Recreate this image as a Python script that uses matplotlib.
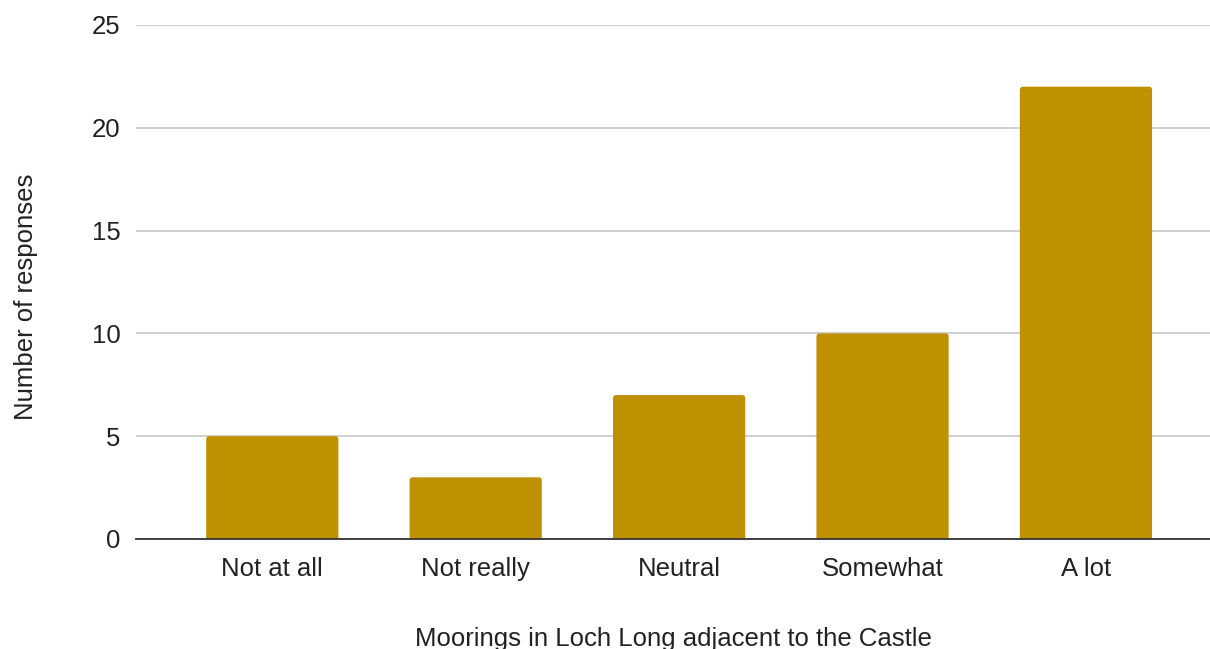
import matplotlib
matplotlib.use("Agg")
import matplotlib.pyplot as plt
from matplotlib.patches import FancyBboxPatch
import numpy as np

categories = ["Not at all", "Not really", "Neutral", "Somewhat", "A lot"]
responses = [5, 3, 7, 10, 22]
yticks = [0, 5, 10, 15, 20, 25]

plt.rcParams['font.family'] = ['Liberation Sans', 'DejaVu Sans']

fig = plt.figure(figsize=(12.1, 6.49), dpi=100)
# axes box in pixel terms: left 136, right 1210, top 25, bottom 539
ax = fig.add_axes([136 / 1210, (649 - 539) / 649, (1210 - 136) / 1210, (539 - 25) / 649])

ax.set_ylim(0, 25)
ax.set_xlim(-0.67, 4.61)

index = np.arange(len(categories))
bars = ax.bar(index, responses, 0.65, color="#bf9000", zorder=3)

# swap plain bars for ones with slightly rounded tops
rad = 0.016
aspect = (25 / 514) / (5.28 / 1074)
for b in bars:
    x, y = b.get_x(), b.get_y()
    w, h = b.get_width(), b.get_height()
    b.remove()
    p = FancyBboxPatch((x, y - 0.3), w, h + 0.3,
                       boxstyle="round,pad=0,rounding_size={}".format(rad),
                       mutation_aspect=aspect, facecolor="#bf9000",
                       edgecolor="none", zorder=3)
    ax.add_patch(p)

ax.set_yticks(yticks)
ax.set_xticks(index)
ax.set_xticklabels(categories)
ax.grid(axis="y", color="#cccccc", linewidth=1.3, zorder=0)

for s in ["top", "right", "left"]:
    ax.spines[s].set_visible(False)
ax.spines["bottom"].set_color("#333333")
ax.spines["bottom"].set_linewidth(1.3)
ax.spines["bottom"].set_zorder(4)

fs = 18.5
ax.tick_params(axis="both", length=0, labelsize=fs, labelcolor="#222222")
ax.tick_params(axis="x", pad=13)
ax.tick_params(axis="y", pad=11)

ax.set_xlabel("Moorings in Loch Long adjacent to the Castle", fontsize=fs,
              color="#222222")
ax.set_ylabel("Number of responses", fontsize=fs, color="#222222")
ax.xaxis.set_label_coords(0.5, -0.172)
ax.yaxis.set_label_coords(-0.091, 0.471)

fig.savefig("out.png", dpi=100)
